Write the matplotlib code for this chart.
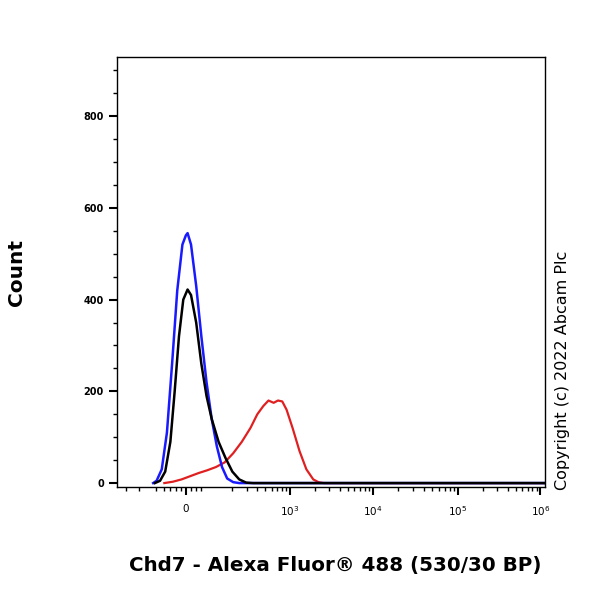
import matplotlib
matplotlib.use("Agg")
import matplotlib.pyplot as plt
import numpy as np

# x in display units (0 -> "0", 1.21 -> 10^3, 2.17 -> 10^4, 3.16 -> 10^5, 4.12 -> 10^6)
blue_x = [-0.38, -0.34, -0.28, -0.22, -0.16, -0.10, -0.04, 0.00, 0.02, 0.06, 0.12, 0.18, 0.24, 0.30, 0.36, 0.42, 0.48, 0.55, 0.62, 4.2]
blue_y = [0, 5, 30, 110, 260, 420, 520, 540, 545, 520, 430, 320, 220, 140, 80, 35, 10, 2, 0, 0]
black_x = [-0.36, -0.30, -0.24, -0.18, -0.13, -0.08, -0.03, 0.02, 0.06, 0.12, 0.18, 0.24, 0.30, 0.38, 0.46, 0.54, 0.62, 0.70, 0.78, 4.2]
black_y = [0, 5, 25, 90, 200, 320, 400, 422, 410, 350, 260, 190, 140, 90, 55, 25, 8, 1, 0, 0]
red_x = [-0.25, -0.15, -0.05, 0.05, 0.15, 0.25, 0.35, 0.45, 0.55, 0.65, 0.75, 0.83, 0.90, 0.96, 1.02, 1.07, 1.12, 1.17, 1.24, 1.32, 1.40, 1.48, 1.54, 1.60, 4.2]
red_y = [0, 3, 8, 15, 22, 28, 35, 45, 65, 90, 120, 150, 168, 180, 175, 180, 178, 160, 120, 70, 30, 8, 2, 0, 0]

xtick_pos = [0, 1.21, 2.17, 3.16, 4.12]
xtick_lab = ["0", "$10^3$", "$10^4$", "$10^5$", "$10^6$"]
yticks = [0, 200, 400, 600, 800]

fig = plt.figure(figsize=(6, 6), dpi=100)
ax = fig.add_axes([0.195, 0.188, 0.713, 0.717])
ax.plot(red_x, red_y, color="#e02020", lw=1.6)
ax.plot(blue_x, blue_y, color="#1a1aff", lw=1.8)
ax.plot(black_x, black_y, color="black", lw=1.8)
ax.set_xlim(-0.8, 4.17)
ax.set_ylim(-9, 929)

ax.set_xticks(xtick_pos)
ax.set_xticklabels(xtick_lab, fontsize=7.5)
minor = []
for d0, d1 in zip(xtick_pos[1:-1], xtick_pos[2:]):
    for m in range(2, 10):
        minor.append(d0 + (d1 - d0) * np.log10(m))
for m in range(2, 10):
    minor.append(1.21 - (2.17 - 1.21) * (1 - np.log10(m)))
minor += [-0.7, -0.55, -0.35, -0.25, -0.18, -0.12, -0.06, 0.06, 0.12, 0.18]
ax.set_xticks(minor, minor=True)
ax.set_yticks(yticks)
ax.set_yticklabels([str(v) for v in yticks], fontsize=7, fontweight="bold")
ax.set_yticks(np.arange(0, 930, 50), minor=True)
ax.tick_params(axis="both", which="major", length=6, width=1.5, direction="out")
ax.tick_params(axis="both", which="minor", length=3, width=1, direction="out")
ax.tick_params(axis="x", pad=6)
for s in ax.spines.values():
    s.set_linewidth(1)

fig.text(0.028, 0.545, "Count", rotation=90, fontsize=14.5, fontweight="bold", ha="center", va="center")
fig.text(0.558, 0.058, "Chd7 - Alexa Fluor® 488 (530/30 BP)", fontsize=14.3, fontweight="bold", ha="center", va="center")
fig.text(0.937, 0.383, "Copyright (c) 2022 Abcam Plc", rotation=90, fontsize=11.5, ha="center", va="center")
fig.savefig("out.png", dpi=100)
